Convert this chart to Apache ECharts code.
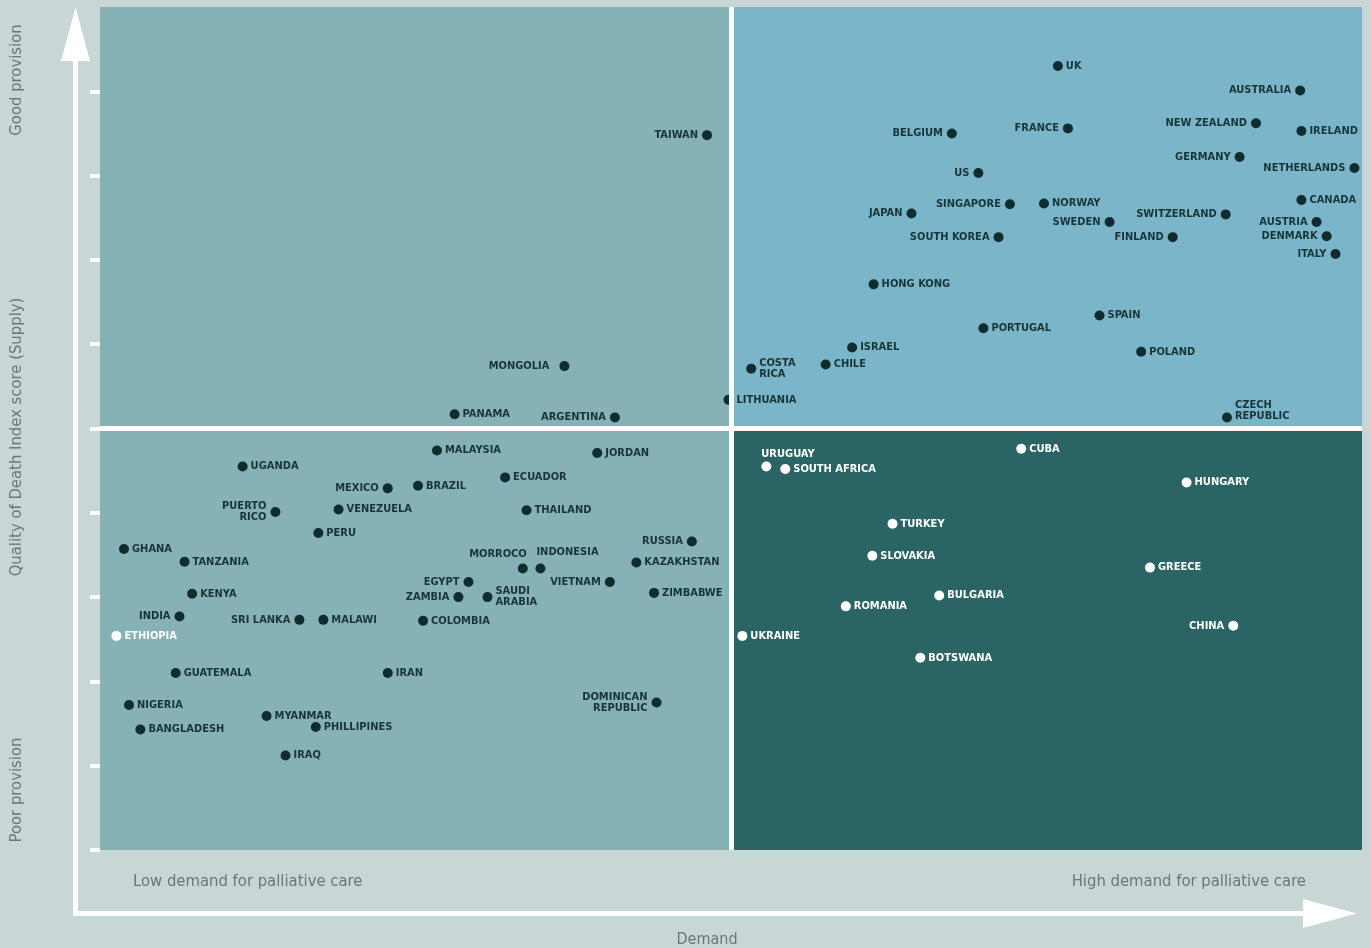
<!DOCTYPE html>
<html>
<head>
<meta charset="utf-8">
<title>Quality of Death - supply vs demand</title>
<script src="https://cdn.jsdelivr.net/npm/echarts@6/dist/echarts.min.js"></script>
<style>
    html, body {margin: 0; padding: 0; background: #c8d6d6;}
    #main {width: 1371px; height: 948px;}
</style>
</head>
<body>
<div id="main"></div>
<script>
// countries plotted with dark dots
var darkNames = ['UK', 'AUSTRALIA', 'NEW ZEALAND', 'IRELAND', 'BELGIUM', 'FRANCE', 'GERMANY', 'NETHERLANDS', 'US', 'CANADA',
    'SINGAPORE', 'NORWAY', 'JAPAN', 'SWITZERLAND', 'SWEDEN', 'AUSTRIA', 'SOUTH KOREA', 'FINLAND', 'DENMARK', 'ITALY',
    'HONG KONG', 'SPAIN', 'PORTUGAL', 'ISRAEL', 'POLAND', 'COSTA\nRICA', 'CHILE', 'LITHUANIA', 'CZECH\nREPUBLIC',
    'TAIWAN', 'MONGOLIA', 'PANAMA', 'ARGENTINA',
    'MALAYSIA', 'JORDAN', 'UGANDA', 'ECUADOR', 'MEXICO', 'BRAZIL', 'PUERTO\nRICO', 'VENEZUELA', 'THAILAND', 'PERU',
    'GHANA', 'TANZANIA', 'RUSSIA', 'KAZAKHSTAN', 'MORROCO', 'INDONESIA', 'VIETNAM', 'EGYPT', 'ZAMBIA', 'SAUDI\nARABIA',
    'ZIMBABWE', 'KENYA', 'INDIA', 'SRI LANKA', 'MALAWI', 'COLOMBIA', 'GUATEMALA', 'IRAN', 'NIGERIA', 'DOMINICAN\nREPUBLIC',
    'MYANMAR', 'PHILLIPINES', 'BANGLADESH', 'IRAQ'];
var darkDemand = [7.59, 9.51, 9.16, 9.52, 6.75, 7.67, 9.03, 9.94, 6.96, 9.52,
    7.21, 7.48, 6.43, 8.92, 8.00, 9.64, 7.12, 8.50, 9.72, 9.79,
    6.13, 7.92, 7.00, 5.96, 8.25, 5.16, 5.75, 4.98, 8.93,
    4.81, 3.68, 2.81, 4.08,
    2.67, 3.94, 1.13, 3.21, 2.28, 2.52, 1.39, 1.89, 3.38, 1.73,
    0.19, 0.67, 4.69, 4.25, 3.35, 3.49, 4.04, 2.92, 2.84, 3.07,
    4.39, 0.73, 0.63, 1.58, 1.77, 2.56, 0.60, 2.28, 0.23, 4.41,
    1.32, 1.71, 0.32, 1.47];
var darkSupply = [9.30, 9.01, 8.62, 8.53, 8.50, 8.56, 8.22, 8.09, 8.03, 7.71,
    7.66, 7.67, 7.55, 7.54, 7.45, 7.45, 7.27, 7.27, 7.28, 7.07,
    6.71, 6.34, 6.19, 5.96, 5.91, 5.71, 5.76, 5.34, 5.13,
    8.48, 5.74, 5.17, 5.13,
    4.74, 4.71, 4.55, 4.42, 4.29, 4.32, 4.01, 4.04, 4.03, 3.76,
    3.57, 3.42, 3.66, 3.41, 3.34, 3.34, 3.18, 3.18, 3.00, 3.00,
    3.05, 3.04, 2.77, 2.73, 2.73, 2.72, 2.10, 2.10, 1.72, 1.75,
    1.59, 1.46, 1.43, 1.12];

// countries plotted with white dots
var lightNames = ['ETHIOPIA', 'CUBA', 'URUGUAY', 'SOUTH AFRICA', 'HUNGARY', 'TURKEY', 'SLOVAKIA', 'GREECE',
    'BULGARIA', 'ROMANIA', 'CHINA', 'UKRAINE', 'BOTSWANA'];
var lightDemand = [0.13, 7.30, 5.28, 5.43, 8.61, 6.28, 6.12, 8.32, 6.65, 5.91, 8.98, 5.09, 6.50];
var lightSupply = [2.54, 4.76, 4.55, 4.52, 4.36, 3.87, 3.49, 3.35, 3.02, 2.89, 2.66, 2.54, 2.28];

// axis scale
var axisMax = 10;
var quadrantSplit = 5;
var supplyTicks = [0, 1, 2, 3, 4, 5, 6, 7, 8, 9];

// label placement
var leftLabels = ['AUSTRALIA', 'NEW ZEALAND', 'BELGIUM', 'FRANCE', 'GERMANY', 'NETHERLANDS', 'US', 'SINGAPORE', 'JAPAN',
    'SWITZERLAND', 'SWEDEN', 'AUSTRIA', 'SOUTH KOREA', 'FINLAND', 'DENMARK', 'ITALY', 'TAIWAN', 'ARGENTINA',
    'MEXICO', 'PUERTO\nRICO', 'RUSSIA', 'VIETNAM', 'EGYPT', 'ZAMBIA', 'INDIA', 'SRI LANKA', 'DOMINICAN\nREPUBLIC', 'CHINA'];
var customLabels = {
    'MONGOLIA': {position: 'left', distance: 10},
    'CZECH\nREPUBLIC': {position: 'right', distance: 3, offset: [0, -7]},
    'URUGUAY': {position: [0, -7], align: 'left', verticalAlign: 'middle'},
    'MORROCO': {position: [9, -9], align: 'right', verticalAlign: 'middle'},
    'INDONESIA': {position: [1, -11], align: 'left', verticalAlign: 'middle'}
};

var labelFont = '"Liberation Sans Narrow", "DejaVu Sans Condensed", sans-serif';
var titleColor = '#677878';

function labelFor(name) {
    if (customLabels[name]) {
        return customLabels[name];
    }
    if (leftLabels.indexOf(name) > -1) {
        return {position: 'left', distance: 4};
    }
    return {position: 'right', distance: 3};
}

function buildData(names, xs, ys) {
    var list = [];
    for (var i = 0; i < names.length; i++) {
        list.push({name: names[i], value: [xs[i], ys[i]], label: labelFor(names[i])});
    }
    return list;
}

var chart = echarts.init(document.getElementById('main'));

var option = {
    backgroundColor: '#c8d6d6',
    animation: false,
    grid: {left: 100, right: 9, top: 7, bottom: 98},
    xAxis: {
        type: 'value',
        min: 0,
        max: axisMax,
        axisLine: {show: false},
        axisTick: {show: false},
        axisLabel: {show: false},
        splitLine: {show: false}
    },
    yAxis: {
        type: 'value',
        min: 0,
        max: axisMax,
        interval: 1,
        axisLine: {show: false},
        axisTick: {
            show: true,
            length: 10,
            customValues: supplyTicks,
            lineStyle: {color: '#fff', width: 4}
        },
        axisLabel: {show: false},
        splitLine: {show: false}
    },
    graphic: [
        // y arrow
        {type: 'line', shape: {x1: 75.5, y1: 55, x2: 75.5, y2: 913.5}, style: {stroke: '#fff', lineWidth: 5}},
        {type: 'polygon', shape: {points: [[75.5, 7], [61, 61], [90, 61]]}, style: {fill: '#fff'}},
        // x arrow
        {type: 'line', shape: {x1: 73, y1: 913.5, x2: 1310, y2: 913.5}, style: {stroke: '#fff', lineWidth: 5}},
        {type: 'polygon', shape: {points: [[1357, 913.5], [1303, 899], [1303, 928]]}, style: {fill: '#fff'}},
        // titles
        {type: 'text', x: 17, y: 80, rotation: Math.PI / 2,
            style: {text: 'Good provision', fill: titleColor, font: '16.5px ' + labelFont, align: 'center', verticalAlign: 'middle'}},
        {type: 'text', x: 17, y: 437, rotation: Math.PI / 2,
            style: {text: 'Quality of Death Index score (Supply)', fill: titleColor, font: '16.5px ' + labelFont, align: 'center', verticalAlign: 'middle'}},
        {type: 'text', x: 17, y: 790, rotation: Math.PI / 2,
            style: {text: 'Poor provision', fill: titleColor, font: '16.5px ' + labelFont, align: 'center', verticalAlign: 'middle'}},
        {type: 'text', x: 133, y: 882,
            style: {text: 'Low demand for palliative care', fill: titleColor, font: '16.5px ' + labelFont, align: 'left', verticalAlign: 'middle'}},
        {type: 'text', x: 1306, y: 882,
            style: {text: 'High demand for palliative care', fill: titleColor, font: '16.5px ' + labelFont, align: 'right', verticalAlign: 'middle'}},
        {type: 'text', x: 707, y: 940,
            style: {text: 'Demand', fill: titleColor, font: '16px ' + labelFont, align: 'center', verticalAlign: 'middle'}}
    ],
    series: [
        {
            // quadrants and white dividers
            type: 'scatter',
            data: [],
            z: 1,
            silent: true,
            markArea: {
                silent: true,
                label: {show: false},
                data: [
                    [{xAxis: 0, yAxis: quadrantSplit, itemStyle: {color: '#86b1b6'}}, {xAxis: quadrantSplit, yAxis: axisMax}],
                    [{xAxis: quadrantSplit, yAxis: quadrantSplit, itemStyle: {color: '#7bb5c9'}}, {xAxis: axisMax, yAxis: axisMax}],
                    [{xAxis: 0, yAxis: 0, itemStyle: {color: '#86b1b6'}}, {xAxis: quadrantSplit, yAxis: quadrantSplit}],
                    [{xAxis: quadrantSplit, yAxis: 0, itemStyle: {color: '#2b6464'}}, {xAxis: axisMax, yAxis: quadrantSplit}]
                ]
            },
            markLine: {
                silent: true,
                symbol: 'none',
                label: {show: false},
                lineStyle: {color: '#fff', width: 5, type: 'solid'},
                data: [{xAxis: quadrantSplit}, {yAxis: quadrantSplit}]
            }
        },
        {
            type: 'scatter',
            z: 3,
            symbolSize: 10,
            itemStyle: {color: '#0f2c2e', opacity: 1},
            label: {
                show: true,
                formatter: '{b}',
                color: '#173537',
                fontFamily: labelFont,
                fontWeight: 'bold',
                fontSize: 11,
                lineHeight: 11
            },
            data: buildData(darkNames, darkDemand, darkSupply)
        },
        {
            type: 'scatter',
            z: 3,
            symbolSize: 10,
            itemStyle: {color: '#ffffff', opacity: 1},
            label: {
                show: true,
                formatter: '{b}',
                color: '#ffffff',
                fontFamily: labelFont,
                fontWeight: 'bold',
                fontSize: 11,
                lineHeight: 11
            },
            data: buildData(lightNames, lightDemand, lightSupply)
        }
    ]
};

chart.setOption(option);
</script>
</body>
</html>
